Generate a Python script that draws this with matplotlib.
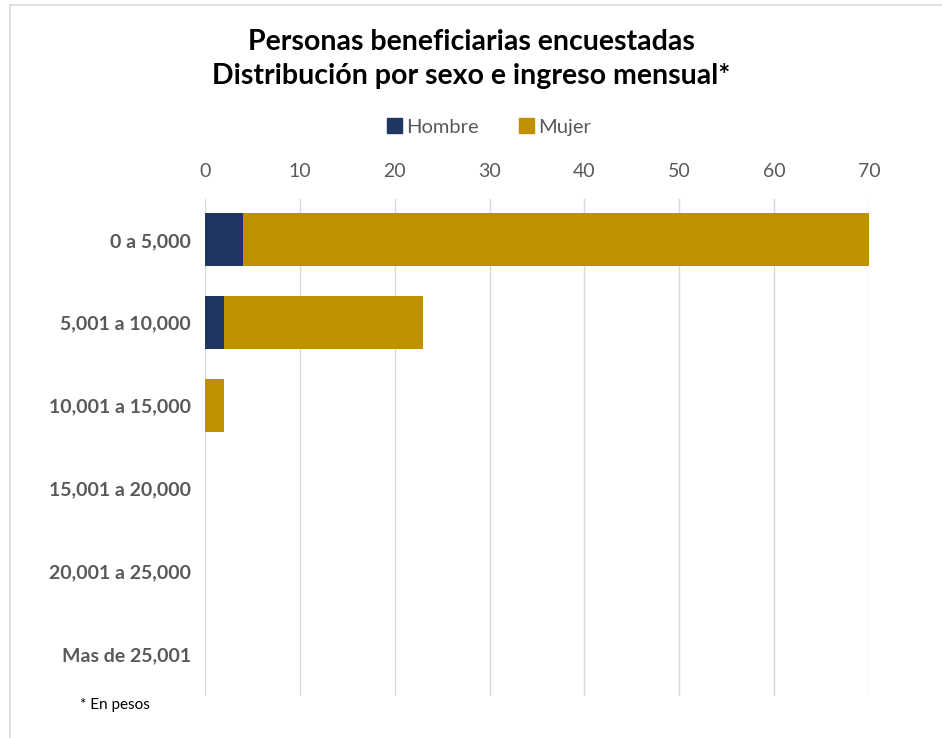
import numpy as np
import matplotlib.pyplot as plt
from matplotlib.patches import Patch

# Datos: personas encuestadas por ingreso mensual
categorias = ['0 a 5,000', '5,001 a 10,000', '10,001 a 15,000',
              '15,001 a 20,000', '20,001 a 25,000', 'Mas de 25,001']
hombre = np.array([4, 2, 0, 0, 0, 0])
mujer = np.array([66, 21, 2, 0, 0, 0])
ticks = [0, 10, 20, 30, 40, 50, 60, 70]

col_h = '#1f3760'
col_m = '#bf9000'

plt.rcParams['font.family'] = ['Lato', 'DejaVu Sans']

fig = plt.figure(figsize=(9.42, 7.38), dpi=100)
W, H = 942, 738
ax = fig.add_axes([205 / W, 1 - 695.5 / H, (869 - 205) / W, (695.5 - 198.5) / H])

y = np.arange(len(categorias))
ax.barh(y, hombre, height=0.64, color=col_h, label='Hombre')
ax.barh(y, mujer, left=hombre, height=0.64, color=col_m, label='Mujer')

ax.set_ylim(len(categorias) - 0.5, -0.5)
ax.set_xlim(0, 70)
ax.set_xticks(ticks)
ax.xaxis.tick_top()
ax.tick_params(axis='x', length=0, pad=13, labelsize=14, labelcolor='#595959')
ax.tick_params(axis='y', length=0, pad=10, labelsize=14, labelcolor='#595959')
ax.set_yticks(y)
ax.set_yticklabels(categorias, fontweight='bold')
ax.grid(axis='x', color='#d9d9d9', linewidth=1)
ax.set_axisbelow(True)
for s in ax.spines.values():
    s.set_visible(False)

fig.text(0.5, 1 - 42 / H, 'Personas beneficiarias encuestadas',
         ha='center', va='center', fontsize=20.5, fontweight='bold', color='black')
fig.text(0.5, 1 - 76 / H, 'Distribución por sexo e ingreso mensual*',
         ha='center', va='center', fontsize=20.5, fontweight='bold', color='black')

handles = [Patch(color=col_h), Patch(color=col_m)]
fig.legend(handles, ['Hombre', 'Mujer'], loc='center', bbox_to_anchor=(489 / W, 1 - 127 / H),
           ncol=2, frameon=False, fontsize=14.5, labelcolor='#595959',
           handlelength=0.75, handleheight=0.75, handletextpad=0.2, columnspacing=2.0)

fig.text(80 / W, 1 - 705 / H, '* En pesos', ha='left', va='center', fontsize=11, color='black')

# borde gris del gráfico
fig.add_artist(plt.Line2D([10 / W, 10 / W], [0, 1 - 5 / H], color='#d9d9d9', lw=1.2))
fig.add_artist(plt.Line2D([10 / W, 1], [1 - 5 / H, 1 - 5 / H], color='#d9d9d9', lw=1.2))

fig.savefig('out.png', dpi=100)
